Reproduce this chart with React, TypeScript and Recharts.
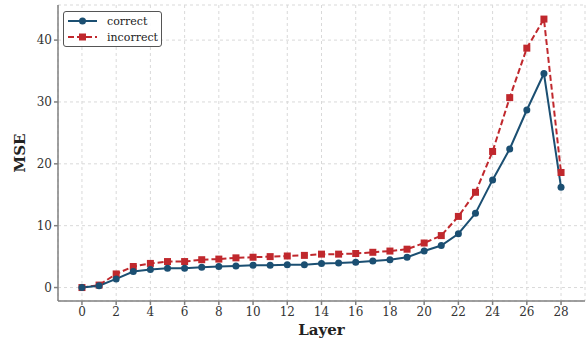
import React from "react";
import { ComposedChart, Line, XAxis, YAxis, CartesianGrid } from "recharts";

const layers = [0,1,2,3,4,5,6,7,8,9,10,11,12,13,14,15,16,17,18,19,20,21,22,23,24,25,26,27,28];
const correct = [0,0.3,1.4,2.6,2.9,3.1,3.1,3.3,3.4,3.5,3.6,3.6,3.7,3.7,3.9,3.95,4.1,4.3,4.5,4.9,5.9,6.8,8.7,12.0,17.4,22.4,28.7,34.6,16.2];
const incorrect = [0,0.4,2.2,3.4,3.9,4.2,4.2,4.5,4.6,4.8,4.9,5.0,5.1,5.2,5.4,5.4,5.5,5.7,5.9,6.2,7.2,8.4,11.5,15.4,22.0,30.7,38.7,43.4,18.6];
const xTicks = [0,2,4,6,8,10,12,14,16,18,20,22,24,26,28];
const yTicks = [0,10,20,30,40];

const BLUE = "#1b4f72";
const RED = "#c0282d";
const FONT = "'DejaVu Serif', serif";

const data = layers.map((l, i) => ({ layer: l, correct: correct[i], incorrect: incorrect[i] }));

const Square = (props: any) => {
  const { cx, cy } = props;
  if (cx == null || cy == null) return null;
  return <rect x={cx - 3.5} y={cy - 3.5} width={7} height={7} fill={RED} />;
};

const LegendBox = () => (
  <div style={{ position: "absolute", left: 63, top: 11, width: 99, height: 36, border: "1px solid #555", borderRadius: 3, background: "rgba(255,255,255,0.9)", boxSizing: "border-box" }}>
    <svg width={99} height={36} style={{ position: "absolute", left: 0, top: 0 }}>
      <line x1={4} y1={9} x2={33} y2={9} stroke={BLUE} strokeWidth={2} />
      <circle cx={18.5} cy={9} r={3.5} fill={BLUE} />
      <line x1={4} y1={25} x2={33} y2={25} stroke={RED} strokeWidth={2} strokeDasharray="6 3" />
      <rect x={15} y={21.5} width={7} height={7} fill={RED} />
      <text x={43} y={13} fontFamily={FONT} fontSize={11} fill="#222">correct</text>
      <text x={43} y={29} fontFamily={FONT} fontSize={11} fill="#222">incorrect</text>
    </svg>
  </div>
);

export default function App() {
  return (
    <div style={{ position: "absolute", left: 0, top: 0, width: 586, height: 341, background: "#fff" }}>
      <ComposedChart width={586} height={341} data={data} margin={{ top: 5, right: 1, bottom: 0, left: 0 }}>
        <CartesianGrid stroke="#d9d9d9" strokeDasharray="3 3" />
        <XAxis
          dataKey="layer"
          type="number"
          domain={[-1.4, 29.4]}
          ticks={xTicks}
          height={40}
          stroke="#808080"
          strokeWidth={1.5}
          tickSize={4}
          tick={{ fill: "#333", fontSize: 12, fontFamily: FONT }}
          label={{ value: "Layer", position: "insideBottom", offset: 6, fill: "#222", fontSize: 15, fontWeight: "bold", fontFamily: FONT }}
        />
        <YAxis
          type="number"
          domain={[-2.175, 45.675]}
          ticks={yTicks}
          width={58}
          stroke="#808080"
          strokeWidth={1.5}
          tickSize={4}
          tick={{ fill: "#333", fontSize: 12, fontFamily: FONT }}
          label={{ value: "MSE", angle: -90, position: "insideLeft", offset: 20, fill: "#222", fontSize: 15, fontWeight: "bold", fontFamily: FONT, style: { textAnchor: "middle" } }}
        />
        <Line type="linear" dataKey="incorrect" stroke={RED} strokeWidth={2} strokeDasharray="6 3" dot={<Square />} isAnimationActive={false} />
        <Line type="linear" dataKey="correct" stroke={BLUE} strokeWidth={2} dot={{ r: 3.5, fill: BLUE, stroke: BLUE, strokeWidth: 0 }} isAnimationActive={false} />
      </ComposedChart>
      <LegendBox />
    </div>
  );
}
